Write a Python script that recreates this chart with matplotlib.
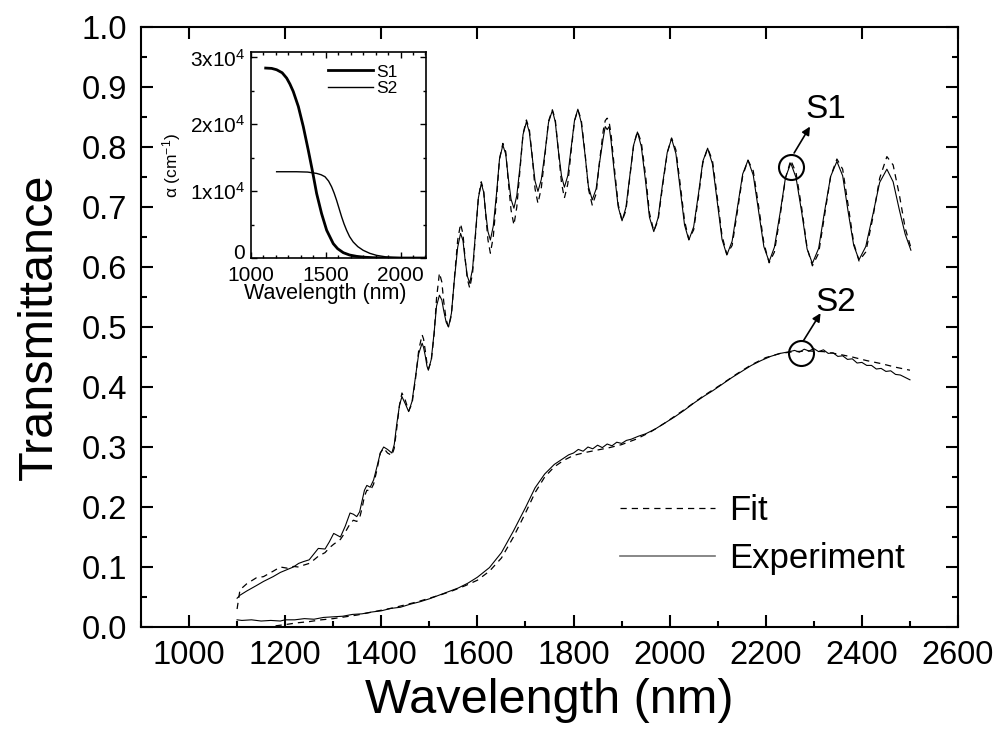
import matplotlib
matplotlib.use('Agg')
import matplotlib.pyplot as plt
from matplotlib.ticker import MultipleLocator, FormatStrFormatter, AutoMinorLocator
from matplotlib.lines import Line2D
from matplotlib.transforms import ScaledTranslation

plt.rcParams['font.family'] = ['Liberation Sans', 'DejaVu Sans']
plt.rcParams['mathtext.fontset'] = 'custom'
plt.rcParams['mathtext.rm'] = 'Liberation Sans'
plt.rcParams['mathtext.it'] = 'Liberation Sans:italic'

# ---- sample S1 (oscillating film): wavelength grid, experiment and fit
s1_wl = [1100, 1106, 1120, 1140, 1155, 1175, 1190, 1205, 1217, 1228,
         1238, 1250, 1260, 1269, 1283, 1292, 1301, 1315, 1325, 1335,
         1342, 1349, 1355, 1360, 1365, 1370, 1377, 1384, 1391, 1398,
         1405, 1413, 1422, 1427, 1432, 1438, 1443, 1450, 1457, 1464,
         1471, 1478, 1485, 1488, 1492, 1495, 1498, 1504, 1510, 1515,
         1521, 1526, 1530, 1535, 1540, 1546, 1552, 1559, 1565, 1570,
         1574, 1579, 1584, 1590, 1596, 1602, 1608, 1613, 1617, 1622,
         1627, 1633, 1640, 1646, 1653, 1659, 1664, 1670, 1676, 1682,
         1689, 1695, 1702, 1708, 1714, 1720, 1726, 1733, 1741, 1748,
         1756, 1762, 1768, 1775, 1781, 1788, 1795, 1802, 1809, 1816,
         1824, 1831, 1839, 1847, 1854, 1862, 1866, 1870, 1874, 1878,
         1885, 1893, 1901, 1909, 1917, 1925, 1933, 1941, 1950, 1958,
         1967, 1976, 1985, 1995, 2004, 2013, 2022, 2031, 2040, 2050,
         2060, 2069, 2079, 2089, 2099, 2109, 2119, 2130, 2141, 2152,
         2163, 2174, 2185, 2196, 2207, 2218, 2230, 2241, 2252, 2263,
         2275, 2286, 2297, 2310, 2322, 2335, 2348, 2360, 2371, 2383,
         2394, 2408, 2423, 2437, 2452, 2465, 2478, 2490, 2502]
s1_exp = [0.048, 0.053, 0.060, 0.069, 0.076, 0.084, 0.091, 0.096, 0.100, 0.106,
          0.109, 0.112, 0.122, 0.131, 0.130, 0.142, 0.156, 0.150, 0.168, 0.190,
          0.188, 0.184, 0.192, 0.210, 0.228, 0.236, 0.233, 0.245, 0.267, 0.290,
          0.300, 0.296, 0.290, 0.304, 0.337, 0.370, 0.384, 0.372, 0.359, 0.376,
          0.416, 0.456, 0.473, 0.466, 0.450, 0.435, 0.428, 0.446, 0.491, 0.535,
          0.553, 0.545, 0.527, 0.508, 0.500, 0.523, 0.578, 0.633, 0.656, 0.644,
          0.615, 0.585, 0.573, 0.597, 0.656, 0.715, 0.739, 0.725, 0.692, 0.659,
          0.645, 0.668, 0.724, 0.780, 0.803, 0.788, 0.750, 0.713, 0.698, 0.719,
          0.770, 0.821, 0.842, 0.825, 0.784, 0.743, 0.726, 0.746, 0.793, 0.841,
          0.861, 0.842, 0.797, 0.752, 0.733, 0.752, 0.798, 0.844, 0.863, 0.841,
          0.787, 0.734, 0.712, 0.730, 0.773, 0.816, 0.834, 0.829, 0.834, 0.811,
          0.756, 0.700, 0.677, 0.699, 0.751, 0.803, 0.825, 0.801, 0.742, 0.683,
          0.659, 0.682, 0.737, 0.791, 0.814, 0.789, 0.730, 0.670, 0.645, 0.667,
          0.722, 0.776, 0.798, 0.772, 0.709, 0.646, 0.620, 0.643, 0.699, 0.755,
          0.778, 0.753, 0.694, 0.634, 0.609, 0.633, 0.691, 0.749, 0.773, 0.749,
          0.690, 0.630, 0.606, 0.631, 0.691, 0.751, 0.776, 0.752, 0.694, 0.636,
          0.612, 0.634, 0.688, 0.741, 0.763, 0.742, 0.695, 0.655, 0.628]
s1_fit = [0.030, 0.062, 0.072, 0.082, 0.084, 0.093, 0.100, 0.098, 0.101, 0.100,
          0.103, 0.106, 0.112, 0.118, 0.124, 0.132, 0.138, 0.146, 0.158, 0.172,
          0.178, 0.176, 0.182, 0.198, 0.218, 0.228, 0.227, 0.238, 0.262, 0.290,
          0.298, 0.290, 0.286, 0.298, 0.330, 0.370, 0.390, 0.378, 0.360, 0.372,
          0.412, 0.462, 0.487, 0.480, 0.458, 0.440, 0.430, 0.443, 0.488, 0.548,
          0.590, 0.575, 0.542, 0.512, 0.500, 0.520, 0.580, 0.645, 0.672, 0.655,
          0.618, 0.580, 0.565, 0.590, 0.652, 0.715, 0.742, 0.728, 0.690, 0.645,
          0.623, 0.650, 0.715, 0.780, 0.806, 0.792, 0.745, 0.695, 0.670, 0.700,
          0.765, 0.822, 0.845, 0.830, 0.785, 0.730, 0.706, 0.732, 0.790, 0.843,
          0.862, 0.846, 0.798, 0.740, 0.715, 0.738, 0.793, 0.843, 0.862, 0.846,
          0.790, 0.730, 0.703, 0.722, 0.775, 0.828, 0.844, 0.848, 0.842, 0.822,
          0.765, 0.704, 0.677, 0.694, 0.748, 0.803, 0.826, 0.808, 0.752, 0.690,
          0.660, 0.678, 0.733, 0.790, 0.815, 0.795, 0.738, 0.677, 0.646, 0.662,
          0.717, 0.773, 0.798, 0.778, 0.717, 0.652, 0.621, 0.636, 0.693, 0.752,
          0.778, 0.760, 0.702, 0.640, 0.607, 0.625, 0.686, 0.748, 0.778, 0.757,
          0.697, 0.632, 0.602, 0.623, 0.685, 0.751, 0.780, 0.763, 0.705, 0.640,
          0.610, 0.625, 0.683, 0.748, 0.784, 0.770, 0.720, 0.665, 0.632]

# ---- sample S2 (smooth film)
s2_wl = [1100, 1110, 1130, 1150, 1170, 1190, 1200, 1220, 1240, 1260,
         1280, 1300, 1320, 1340, 1360, 1380, 1400, 1420, 1440, 1460,
         1480, 1500, 1520, 1540, 1560, 1580, 1600, 1625, 1650, 1675,
         1700, 1720, 1740, 1760, 1775, 1790, 1800, 1810, 1820, 1830,
         1840, 1850, 1860, 1870, 1880, 1890, 1900, 1910, 1920, 1935,
         1950, 1970, 1990, 2010, 2030, 2050, 2070, 2090, 2110, 2130,
         2150, 2170, 2190, 2210, 2230, 2250, 2260, 2270, 2280, 2290,
         2300, 2310, 2320, 2330, 2340, 2350, 2360, 2370, 2380, 2390,
         2400, 2410, 2420, 2430, 2440, 2450, 2460, 2470, 2480, 2490,
         2500]
s2_exp = [0.012, 0.011, 0.012, 0.010, 0.011, 0.010, 0.012, 0.012, 0.014, 0.013,
          0.016, 0.017, 0.018, 0.021, 0.022, 0.025, 0.027, 0.031, 0.033, 0.038,
          0.042, 0.047, 0.053, 0.059, 0.065, 0.073, 0.083, 0.099, 0.124, 0.160,
          0.199, 0.232, 0.255, 0.271, 0.279, 0.287, 0.290, 0.296, 0.293, 0.300,
          0.297, 0.303, 0.299, 0.305, 0.302, 0.308, 0.306, 0.311, 0.313, 0.318,
          0.322, 0.330, 0.340, 0.350, 0.361, 0.373, 0.384, 0.394, 0.405, 0.416,
          0.426, 0.436, 0.444, 0.451, 0.456, 0.459, 0.461, 0.458, 0.463, 0.460,
          0.464, 0.459, 0.462, 0.456, 0.457, 0.451, 0.452, 0.446, 0.447, 0.440,
          0.441, 0.436, 0.436, 0.430, 0.431, 0.426, 0.427, 0.421, 0.420, 0.416,
          0.412]
s2_fit_wl = [1180, 1200, 1225, 1250, 1275, 1300, 1325, 1350, 1375, 1400,
             1425, 1450, 1475, 1500, 1525, 1550, 1575, 1600, 1625, 1650,
             1675, 1700, 1720, 1740, 1760, 1780, 1800, 1825, 1850, 1875,
             1900, 1930, 1960, 1990, 2030, 2070, 2105, 2140, 2170, 2200,
             2230, 2260, 2290, 2320, 2350, 2380, 2410, 2440, 2470, 2500]
s2_fit = [0.002, 0.004, 0.007, 0.009, 0.012, 0.014, 0.017, 0.020, 0.024, 0.028,
          0.032, 0.037, 0.042, 0.048, 0.054, 0.061, 0.069, 0.078, 0.093, 0.115,
          0.150, 0.190, 0.224, 0.250, 0.267, 0.278, 0.286, 0.291, 0.295, 0.299,
          0.304, 0.313, 0.325, 0.340, 0.362, 0.385, 0.403, 0.422, 0.437, 0.449,
          0.456, 0.459, 0.460, 0.459, 0.455, 0.450, 0.444, 0.439, 0.433, 0.428]

# ---- inset: absorption coefficient (cm^-1)
ins_s1_wl = [1100, 1140, 1173, 1210, 1240, 1262, 1284, 1318, 1351, 1384,
             1413, 1440, 1473, 1507, 1551, 1580, 1618, 1660, 1707, 1760,
             1818, 1900, 2000, 2170]
ins_s1 = [28400, 28350, 28150, 27700, 26900, 26000, 24900, 22650, 19650, 16150,
          12900, 9650, 6650, 4150, 2150, 1400, 800, 450, 250, 120,
          50, 10, 0, 0]
ins_s2_wl = [1173, 1250, 1306, 1380, 1440, 1470, 1496, 1520, 1540, 1557,
             1573, 1590, 1607, 1623, 1640, 1660, 1684, 1715, 1751, 1795,
             1840, 1900, 1951, 2010, 2062, 2170]
ins_s2 = [12900, 12900, 12900, 12850, 12650, 12450, 12150, 11500, 10650, 9700,
          8650, 7400, 6150, 5100, 4150, 3200, 2400, 1700, 1150, 700,
          400, 180, 100, 40, 0, 0]
ins_yticks = [0, 10000, 20000, 30000]
ins_yticklabels = ['0', '1x10$^4$', '2x10$^4$', '3x10$^4$']

# callouts: (label, circle centre, arrow start, arrow tip, text position)
callouts = [
    ('S1', (2252, 0.766), (2259, 0.790), (2292, 0.834), (2326, 0.862)),
    ('S2', (2274, 0.457), (2279, 0.478), (2314, 0.523), (2345, 0.541)),
]

fig = plt.figure(figsize=(10.04, 7.56), dpi=100)
ax = fig.add_axes([0.1404, 0.1706, 0.8138, 0.7937])

dash = (5, 4)
ax.plot(s1_wl, s1_exp, color='k', lw=0.8)
ax.plot(s1_wl, s1_fit, color='k', lw=0.9, dashes=dash)
ax.plot(s2_wl, s2_exp, color='k', lw=0.8)
ax.plot(s2_fit_wl, s2_fit, color='k', lw=0.9, dashes=dash)

ax.set_xlim(900, 2600)
ax.set_ylim(0, 1.0)
ax.xaxis.set_major_locator(MultipleLocator(200))
ax.xaxis.set_minor_locator(MultipleLocator(100))
ax.yaxis.set_major_locator(MultipleLocator(0.1))
ax.yaxis.set_minor_locator(MultipleLocator(0.05))
ax.yaxis.set_major_formatter(FormatStrFormatter('%.1f'))
ax.tick_params(which='both', direction='in', width=1.5, labelsize=23.5,
               top=True, right=True)
ax.tick_params(which='major', length=8.6)
ax.tick_params(which='minor', length=4.3)
ax.tick_params(axis='x', which='minor', top=False)
ax.tick_params(axis='x', pad=9)
ax.tick_params(axis='y', pad=10)
for sp in ax.spines.values():
    sp.set_linewidth(1.5)

ax.set_xlabel('Wavelength (nm)', fontsize=35)
ax.set_ylabel('Transmittance', fontsize=35)
ax.xaxis.set_label_coords(0.5, -0.085)
ax.yaxis.set_label_coords(-0.097, 0.5)

# legend
handles = [Line2D([], [], color='k', lw=0.9, dashes=dash),
           Line2D([], [], color='0.45', lw=1.2)]
ax.legend(handles, ['Fit', 'Experiment'], loc='upper left',
          bbox_to_anchor=(0.586, 0.222), frameon=False, fontsize=25,
          handlelength=2.75, handletextpad=0.4, labelspacing=0.45,
          borderpad=0, borderaxespad=0)

# circled points with arrows
for name, centre, start, tip, txt in callouts:
    ax.plot([centre[0]], [centre[1]], marker='o', ms=18, mfc='none',
            mec='k', mew=1.5)
    ax.annotate('', xy=tip, xytext=start,
                arrowprops=dict(arrowstyle='-|>', color='k', lw=1.2,
                                mutation_scale=12, shrinkA=0, shrinkB=0))
    ax.text(txt[0], txt[1], name, fontsize=24, ha='center', va='center')

# inset
ins = fig.add_axes([0.2497, 0.6587, 0.1746, 0.2725])
ins.plot(ins_s1_wl, ins_s1, color='k', lw=2, label='S1')
ins.plot(ins_s2_wl, ins_s2, color='k', lw=1, label='S2')
ins.set_xlim(1000, 2170)
ins.set_ylim(0, 30800)
ins.set_xticks([1000, 1500, 2000])
ins.xaxis.set_minor_locator(AutoMinorLocator(6))
ins.set_yticks(ins_yticks)
ins.set_yticklabels(ins_yticklabels)
ins.yaxis.set_minor_locator(MultipleLocator(5000))
ins.tick_params(which='both', direction='in', width=1, labelsize=15,
                top=True, right=True)
ins.tick_params(which='major', length=4.5)
ins.tick_params(which='minor', length=2.5)
ins.tick_params(axis='x', pad=5.5)
ins.tick_params(axis='y', pad=4)
for sp in ins.spines.values():
    sp.set_linewidth(1.2)

# nudge the "0" label up a little so it clears the "1000" below it
zero_lbl = ins.get_yticklabels()[0]
zero_lbl.set_transform(zero_lbl.get_transform()
                       + ScaledTranslation(0, 4.5 / 72, fig.dpi_scale_trans))

ins.set_xlabel('Wavelength (nm)', fontsize=15.5)
ins.set_ylabel('α (cm$^{-1}$)', fontsize=12.5)
ins.xaxis.set_label_coords(0.424, -0.122)
ins.yaxis.set_label_coords(-0.386, 0.447)
ins.legend(loc='upper right', bbox_to_anchor=(0.84, 0.94), frameon=False,
           fontsize=12.5, handlelength=2.6, handletextpad=0.2,
           labelspacing=0.1, borderpad=0, borderaxespad=0)

fig.savefig('out.png', dpi=100)
